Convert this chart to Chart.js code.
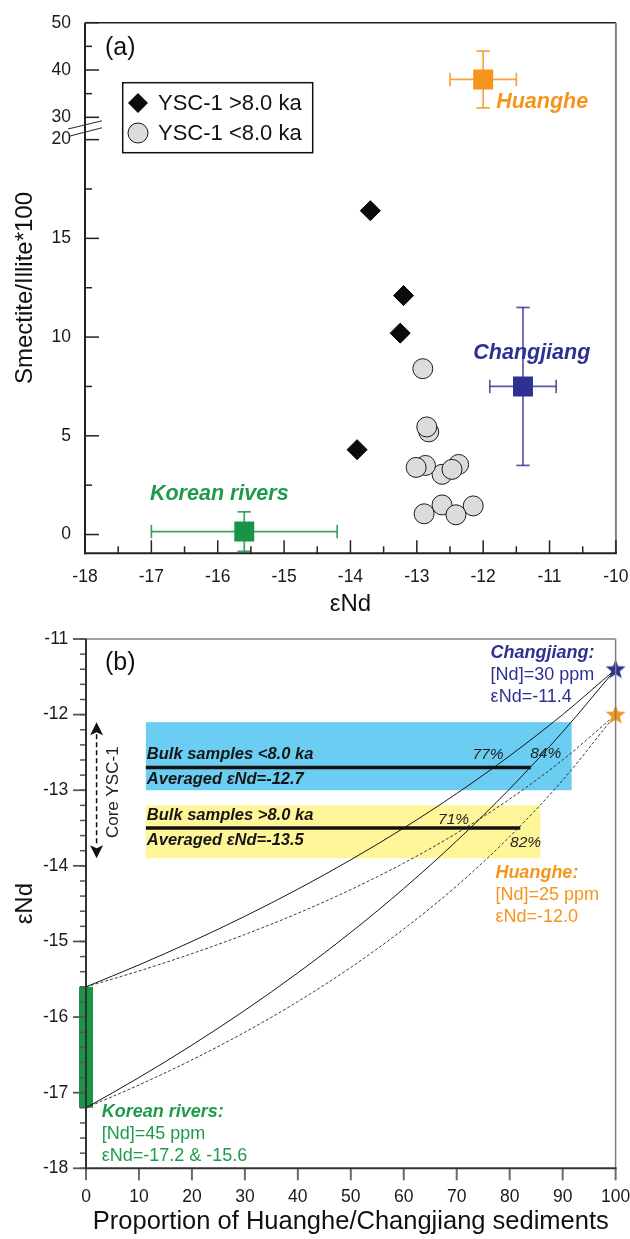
<!DOCTYPE html>
<html>
<head>
<meta charset="utf-8">
<script src="https://cdn.jsdelivr.net/npm/chart.js@4.4.0/dist/chart.umd.min.js"></script>
<style>
html,body{margin:0;padding:0;background:#fff;}
body{width:630px;height:1239px;position:relative;overflow:hidden;}
#c1{position:absolute;left:0;top:0;}
#c2{position:absolute;left:0;top:600px;}
</style>
</head>
<body>
<canvas id="c1" width="630" height="640"></canvas>
<canvas id="c2" width="630" height="639"></canvas>
<script>
// ================= DATA =================
// ---- Panel (a): clay mineral ratio vs eNd ----
const OLD_LABEL = 'YSC-1 >8.0 ka';
const OLD_X = [-13.70, -13.20, -13.25, -13.90];
const OLD_Y = [16.4, 12.1, 10.2, 4.3];

const YOUNG_LABEL = 'YSC-1 <8.0 ka';
const YOUNG_X = [-12.91, -12.82, -12.85, -12.37, -12.62, -12.47, -12.87, -13.01, -12.62, -12.15, -12.41, -12.89];
const YOUNG_Y = [8.4, 5.2, 5.45, 3.55, 3.05, 3.3, 3.5, 3.4, 1.5, 1.45, 1.0, 1.05];

const SRC_NAMES = ['Huanghe', 'Changjiang', 'Korean rivers'];
const SRC_X = [-12.0, -11.4, -15.6];
const SRC_Y = [38, 7.5, 0.15];
const SRC_X_LOW = [-12.5, -11.9, -17.0];
const SRC_X_HIGH = [-11.5, -10.9, -14.2];
const SRC_Y_LOW = [32, 3.5, -0.85];
const SRC_Y_HIGH = [44, 11.5, 1.15];

const A_X_TICKS = [-18, -17, -16, -15, -14, -13, -12, -11, -10];
const A_X_MINOR = [-17.5, -16.5, -15.5, -14.5, -13.5, -12.5, -11.5, -10.5];
const A_Y_TICKS = [0, 5, 10, 15, 20, 30, 40, 50];
const A_Y_MINOR = [2.5, 7.5, 12.5, 17.5, 35, 45];
const BREAK_FROM = 20, BREAK_TO = 30;

// ---- Panel (b): binary mixing ----
const MIX_F = [0, 10, 20, 30, 40, 50, 60, 70, 80, 90, 100];
const MIX_CJ_KA = [-15.6, -15.31, -15.0, -14.667, -14.308, -13.92, -13.5, -13.043, -12.545, -12.0, -11.4];
const MIX_CJ_KB = [-17.2, -16.8, -16.371, -15.911, -15.415, -14.88, -14.3, -13.67, -12.982, -12.229, -11.4];
const MIX_HH_KA = [-15.6, -15.391, -15.161, -14.908, -14.627, -14.314, -13.964, -13.568, -13.117, -12.6, -12.0];
const MIX_HH_KB = [-17.2, -16.898, -16.566, -16.2, -15.795, -15.343, -14.836, -14.265, -13.614, -12.867, -12.0];

const END_NAMES = ['Changjiang', 'Huanghe'];
const END_ND = [30, 25];
const END_END = [-11.4, -12.0];
const KOR_NAME = 'Korean rivers';
const KOR_ND = 45;
const KOR_END = [-17.2, -15.6];

const BULK_LABELS = ['Bulk samples <8.0 ka', 'Bulk samples >8.0 ka'];
const BULK_AVG = [-12.7, -13.5];
const BULK_TOP = [-12.1, -13.2];
const BULK_BOTTOM = [-13.0, -13.9];
const BULK_START = 11.3;
const BULK_BOX_END = [91.7, 85.8];
const BULK_LINE_END = [84, 82];

const PCT_LABELS = ['77%', '84%', '71%', '82%'];
const PCT_X = [75.9, 86.8, 69.4, 83.0];
const PCT_Y = [-12.53, -12.52, -13.39, -13.69];

const B_X_TICKS = [0, 10, 20, 30, 40, 50, 60, 70, 80, 90, 100];
const B_Y_TICKS = [-18, -17, -16, -15, -14, -13, -12, -11];
const CORE_LABEL = 'Core YSC-1';
const CORE_RANGE = [-12.1, -13.9];

// ================= STYLE =================
const FONT = "'Liberation Sans', Arial, Helvetica, sans-serif";
const ORANGE = '#F7941D', NAVY = '#2E3192', GREEN = '#179447';
const SRC_COLORS = [ORANGE, NAVY, GREEN];
const SRC_BAR_COLORS = ['rgba(247,148,29,0.85)', 'rgba(46,49,146,0.8)', 'rgba(23,148,71,0.85)'];
const SRC_TEXT_COLORS = ['#F7941D', '#2E3192', '#1E9A4B'];
const BOX_COLORS = ['#6ACDF1', '#FFF599'];

// broken axis mapping (display units)
const GAP_UNITS = 1.13, UPPER_SCALE = 0.2396;
function toDisp(v) {
  if (v <= BREAK_FROM) return v;
  if (v >= BREAK_TO) return BREAK_FROM + GAP_UNITS + (v - BREAK_TO) * UPPER_SCALE;
  return BREAK_FROM + (v - BREAK_FROM) / (BREAK_TO - BREAK_FROM) * GAP_UNITS;
}
function fromDisp(d) {
  if (d <= BREAK_FROM) return d;
  if (d >= BREAK_FROM + GAP_UNITS) return BREAK_TO + (d - BREAK_FROM - GAP_UNITS) / UPPER_SCALE;
  return BREAK_FROM + (d - BREAK_FROM) / GAP_UNITS * (BREAK_TO - BREAK_FROM);
}
class BrokenLinearScale extends Chart.LinearScale {
  getPixelForValue(value) {
    if (value === null || value === undefined || isNaN(value)) return NaN;
    return this.getPixelForDecimal((toDisp(value) - this._startValue) / this._valueRange);
  }
  getValueForPixel(pixel) {
    return fromDisp(this._startValue + this.getDecimalForPixel(pixel) * this._valueRange);
  }
}
BrokenLinearScale.id = 'brokenLinear';
BrokenLinearScale.defaults = {};
Chart.register(BrokenLinearScale);

function line(ctx, x1, y1, x2, y2, color, w, dash) {
  ctx.beginPath();
  ctx.setLineDash(dash || []);
  ctx.strokeStyle = color; ctx.lineWidth = w;
  ctx.moveTo(x1, y1); ctx.lineTo(x2, y2); ctx.stroke();
  ctx.setLineDash([]);
}

// ================= PANEL (a) =================
const panelA = {
  id: 'panelA',
  beforeDatasetsDraw(chart) {
    const {ctx, scales: {x, y}} = chart;
    ctx.save();
    SRC_NAMES.forEach((n, i) => {
      const px = x.getPixelForValue(SRC_X[i]), py = y.getPixelForValue(SRC_Y[i]);
      const xl = x.getPixelForValue(SRC_X_LOW[i]), xh = x.getPixelForValue(SRC_X_HIGH[i]);
      const yl = y.getPixelForValue(SRC_Y_LOW[i]), yh = y.getPixelForValue(SRC_Y_HIGH[i]);
      const c = SRC_BAR_COLORS[i], w = 1.7, cap = 6.7;
      line(ctx, xl, py, xh, py, c, w);
      line(ctx, xl, py - cap, xl, py + cap, c, w);
      line(ctx, xh, py - cap, xh, py + cap, c, w);
      line(ctx, px, yl, px, yh, c, w);
      line(ctx, px - cap, yl, px + cap, yl, c, w);
      line(ctx, px - cap, yh, px + cap, yh, c, w);
    });
    ctx.restore();
  },
  afterDraw(chart) {
    const {ctx, chartArea: ca, scales: {x, y}} = chart;
    ctx.save();
    // frame
    line(ctx, ca.left, ca.top, ca.right, ca.top, '#222', 1.5);
    line(ctx, ca.right, ca.top, ca.right, ca.bottom, '#808080', 2);
    line(ctx, ca.left - 1, ca.bottom, ca.right + 1, ca.bottom, '#222', 2);
    line(ctx, ca.left, ca.top, ca.left, ca.bottom + 1, '#222', 2);
    // inner ticks
    A_X_TICKS.forEach(v => { const p = x.getPixelForValue(v); line(ctx, p, ca.bottom, p, ca.bottom - 13, '#222', 1.5); });
    A_X_MINOR.forEach(v => { const p = x.getPixelForValue(v); line(ctx, p, ca.bottom, p, ca.bottom - 7, '#222', 1.5); });
    A_Y_TICKS.forEach(v => { const p = y.getPixelForValue(v); line(ctx, ca.left, p, ca.left + 14, p, '#222', 1.5); });
    A_Y_MINOR.forEach(v => { const p = y.getPixelForValue(v); line(ctx, ca.left, p, ca.left + 7, p, '#222', 1.5); });
    // axis break marks
    const p20 = y.getPixelForValue(BREAK_FROM), p30 = y.getPixelForValue(BREAK_TO), mid = (p20 + p30) / 2;
    line(ctx, ca.left - 17, mid + 0.5, ca.left + 17, mid - 7.7, '#333', 1.2);
    line(ctx, ca.left - 15, mid + 7.5, ca.left + 17, mid - 0.7, '#333', 1.2);
    // panel label
    ctx.fillStyle = '#111'; ctx.font = `25px ${FONT}`; ctx.textAlign = 'left'; ctx.textBaseline = 'middle';
    ctx.fillText('(a)', ca.left + 20, ca.top + 25.5);
    // source labels
    const offs = [[13, 22.7, 'left'], [8.8, -33, 'center'], [-25, -37.7, 'center']];
    ctx.font = `italic bold 21.5px ${FONT}`;
    SRC_NAMES.forEach((n, i) => {
      const px = x.getPixelForValue(SRC_X[i]), py = y.getPixelForValue(SRC_Y[i]);
      ctx.fillStyle = SRC_TEXT_COLORS[i]; ctx.textAlign = offs[i][2];
      ctx.fillText(n, px + offs[i][0], py + offs[i][1]);
    });
    // legend
    const lx = ca.left + 37.7, ly = ca.top + 60, lw = 190, lh = 70;
    ctx.fillStyle = '#fff'; ctx.fillRect(lx, ly, lw, lh);
    ctx.strokeStyle = '#111'; ctx.lineWidth = 1.5; ctx.strokeRect(lx, ly, lw, lh);
    const ds = chart.data.datasets;
    // diamond
    let cx = lx + 15.3, cy = ly + 20.3;
    ctx.beginPath(); ctx.moveTo(cx, cy - 10); ctx.lineTo(cx + 10, cy); ctx.lineTo(cx, cy + 10); ctx.lineTo(cx - 10, cy); ctx.closePath();
    ctx.fillStyle = ds[0].backgroundColor; ctx.fill();
    // circle
    cy = ly + 50.3;
    ctx.beginPath(); ctx.arc(cx, cy, 10, 0, Math.PI * 2);
    ctx.fillStyle = ds[1].backgroundColor; ctx.fill(); ctx.strokeStyle = '#1a1a1a'; ctx.lineWidth = 1; ctx.stroke();
    ctx.fillStyle = '#111'; ctx.font = `22px ${FONT}`; ctx.textAlign = 'left'; ctx.textBaseline = 'middle';
    ctx.fillText(ds[0].label, lx + 35.3, ly + 21);
    ctx.fillText(ds[1].label, lx + 35.3, ly + 51);
    ctx.restore();
  }
};

new Chart(document.getElementById('c1'), {
  type: 'scatter',
  data: {
    datasets: [
      { label: OLD_LABEL, data: OLD_X.map((v, i) => ({x: v, y: OLD_Y[i]})), pointStyle: 'rectRot', pointRadius: 10,
        backgroundColor: '#0b0b0b', borderColor: '#000', borderWidth: 1 },
      { label: YOUNG_LABEL, data: YOUNG_X.map((v, i) => ({x: v, y: YOUNG_Y[i]})), pointStyle: 'circle', pointRadius: 10,
        backgroundColor: '#dcdcdc', borderColor: '#1a1a1a', borderWidth: 1 },
      ...SRC_NAMES.map((n, i) => ({ label: n, data: [{x: SRC_X[i], y: SRC_Y[i]}], pointStyle: 'rect', pointRadius: 14.1,
        backgroundColor: SRC_COLORS[i], borderColor: SRC_COLORS[i], borderWidth: 0 }))
    ]
  },
  options: {
    responsive: false, animation: false, devicePixelRatio: 1,
    layout: { padding: { left: 0, top: 22.7, right: 14, bottom: 20.7 } },
    plugins: { legend: { display: false }, tooltip: { enabled: false } },
    scales: {
      x: {
        type: 'linear', position: 'bottom', min: -18, max: -10,
        grid: { display: false, drawTicks: false }, border: { display: false },
        ticks: { stepSize: 1, padding: 13.2, autoSkip: false, maxRotation: 0, color: '#1a1a1a',
                 font: { family: FONT, size: 17.5 }, callback: v => String(v) },
        title: { display: true, text: 'εNd', color: '#111', font: { family: FONT, size: 24 }, padding: { top: 0, bottom: 0.9 } },
        afterFit: s => { s.height = 66; s.paddingLeft = 0; s.paddingRight = 0; }
      },
      y: {
        type: 'brokenLinear', position: 'left', min: -0.95, max: toDisp(50), bounds: 'data',
        grid: { display: false, drawTicks: false }, border: { display: false },
        afterBuildTicks: s => { s.ticks = A_Y_TICKS.map(v => ({ value: v })); },
        ticks: { padding: 14, autoSkip: false, color: '#1a1a1a', font: { family: FONT, size: 17.5 }, callback: v => String(v) },
        title: { display: true, text: 'Smectite/Illite*100', color: '#111', font: { family: FONT, size: 24 }, padding: { top: 10.6, bottom: 0 } },
        afterFit: s => { s.width = 85; s.paddingTop = 0; s.paddingBottom = 0; }
      }
    }
  },
  plugins: [panelA]
});

// ================= PANEL (b) =================
function starImage(color, R) {
  const c = document.createElement('canvas');
  const s = Math.ceil(2 * R + 4); c.width = s; c.height = s;
  const g = c.getContext('2d');
  const cx = s / 2, cy = s / 2 + R * 0.05, r = R * 0.42;
  g.beginPath();
  for (let k = 0; k < 10; k++) {
    const rad = k % 2 ? r : R, a = -Math.PI / 2 + k * Math.PI / 5;
    g.lineTo(cx + rad * Math.cos(a), cy + rad * Math.sin(a));
  }
  g.closePath(); g.fillStyle = color; g.fill();
  return c;
}
const STARS = [starImage(NAVY, 10.5), starImage(ORANGE, 10.5)];

const panelB = {
  id: 'panelB',
  beforeDatasetsDraw(chart) {
    const {ctx, scales: {x, y}} = chart;
    ctx.save();
    BULK_AVG.forEach((v, i) => {
      const x0 = x.getPixelForValue(BULK_START), x1 = x.getPixelForValue(BULK_BOX_END[i]);
      const y0 = y.getPixelForValue(BULK_TOP[i]), y1 = y.getPixelForValue(BULK_BOTTOM[i]);
      ctx.fillStyle = BOX_COLORS[i]; ctx.fillRect(x0, y0, x1 - x0, y1 - y0);
    });
    // Korean rivers end-member range bar
    const kx = x.getPixelForValue(0);
    const ky0 = y.getPixelForValue(KOR_END[1]), ky1 = y.getPixelForValue(KOR_END[0]);
    ctx.fillStyle = '#1B9446'; ctx.fillRect(kx - 7, ky0, 14, ky1 - ky0);
    ctx.restore();
  },
  afterDraw(chart) {
    const {ctx, chartArea: ca, scales: {x, y}} = chart;
    ctx.save();
    // frame
    line(ctx, ca.left, ca.top, ca.right, ca.top, '#808080', 1.5);
    line(ctx, ca.right, ca.top, ca.right, ca.bottom, '#808080', 1.5);
    // ticks (outside)
    for (let k = 0; k <= 35; k++) {
      const v = -18 + k * 0.2; const p = y.getPixelForValue(v);
      line(ctx, ca.left - 6, p, ca.left, p, '#555', 1.5);
    }
    B_Y_TICKS.forEach(v => { const p = y.getPixelForValue(v); line(ctx, ca.left - 13, p, ca.left, p, '#555', 1.8); });
    B_X_TICKS.forEach(v => { const p = x.getPixelForValue(v); line(ctx, p, ca.bottom, p, ca.bottom + 12, '#6a6a6a', 2); });
    line(ctx, ca.left - 1, ca.bottom, ca.right + 1, ca.bottom, '#333', 2);
    line(ctx, ca.left, ca.top, ca.left, ca.bottom + 1, '#333', 2);
    // panel label
    ctx.fillStyle = '#111'; ctx.font = `25px ${FONT}`; ctx.textAlign = 'left'; ctx.textBaseline = 'middle';
    ctx.fillText('(b)', ca.left + 19, ca.top + 24.5);
    // bulk sample texts
    ctx.font = `italic bold 16.5px ${FONT}`; ctx.fillStyle = '#151515';
    BULK_AVG.forEach((v, i) => {
      const px = x.getPixelForValue(BULK_START) + 1, py = y.getPixelForValue(v);
      ctx.fillText(BULK_LABELS[i], px, py - 13);
      ctx.fillText(`Averaged εNd=${v.toFixed(1)}`, px, py + 12);
    });
    // percentage labels
    ctx.font = `italic 15.5px ${FONT}`; ctx.fillStyle = '#222'; ctx.textAlign = 'center';
    PCT_LABELS.forEach((t, i) => ctx.fillText(t, x.getPixelForValue(PCT_X[i]), y.getPixelForValue(PCT_Y[i])));
    // end-member text blocks
    ctx.textAlign = 'left';
    const blocks = [
      { lines: [`${END_NAMES[0]}:`, `[Nd]=${END_ND[0]} ppm`, `εNd=${END_END[0].toFixed(1)}`], color: NAVY, ax: 76.4, ay: -11.19 },
      { lines: [`${END_NAMES[1]}:`, `[Nd]=${END_ND[1]} ppm`, `εNd=${END_END[1].toFixed(1)}`], color: ORANGE, ax: 77.3, ay: -14.09 },
      { lines: [`${KOR_NAME}:`, `[Nd]=${KOR_ND} ppm`, `εNd=${KOR_END[0]} & ${KOR_END[1]}`], color: '#1E9A4B', ax: 2.97, ay: -17.25 }
    ];
    blocks.forEach(b => {
      const px = x.getPixelForValue(b.ax), py = y.getPixelForValue(b.ay);
      ctx.fillStyle = b.color;
      b.lines.forEach((t, j) => {
        ctx.font = j === 0 ? `italic bold 18px ${FONT}` : `18px ${FONT}`;
        ctx.fillText(t, px, py + j * 22);
      });
    });
    // Core YSC-1 arrow
    const ax = x.getPixelForValue(2.0);
    const t0 = y.getPixelForValue(CORE_RANGE[0]), t1 = y.getPixelForValue(CORE_RANGE[1]);
    line(ctx, ax, t0 + 12, ax, t1 - 12, '#111', 1.5, [5, 3]);
    ctx.fillStyle = '#111';
    ctx.beginPath(); ctx.moveTo(ax, t0); ctx.lineTo(ax + 6.5, t0 + 13); ctx.lineTo(ax, t0 + 10); ctx.lineTo(ax - 6.5, t0 + 13); ctx.closePath(); ctx.fill();
    ctx.beginPath(); ctx.moveTo(ax, t1); ctx.lineTo(ax + 6.5, t1 - 13); ctx.lineTo(ax, t1 - 10); ctx.lineTo(ax - 6.5, t1 - 13); ctx.closePath(); ctx.fill();
    ctx.save();
    ctx.translate(ax + 16.3, (t0 + t1) / 2 + 2);
    ctx.rotate(-Math.PI / 2);
    ctx.font = `17px ${FONT}`; ctx.fillStyle = '#222'; ctx.textAlign = 'center'; ctx.textBaseline = 'middle';
    ctx.fillText(CORE_LABEL, 0, 0);
    ctx.restore();
    ctx.restore();
  }
};

const curve = (ys, dashed) => ({
  data: MIX_F.map((f, i) => ({ x: f, y: ys[i] })), showLine: true, pointRadius: 0,
  borderColor: dashed ? '#3a3a3a' : '#151515', borderWidth: 1, borderDash: dashed ? [3, 2] : [],
  cubicInterpolationMode: 'monotone', clip: false
});

new Chart(document.getElementById('c2'), {
  type: 'scatter',
  data: {
    datasets: [
      { label: END_NAMES[0], data: [{ x: 100, y: END_END[0] }], pointStyle: STARS[0], pointRadius: 10, clip: false },
      { label: END_NAMES[1], data: [{ x: 100, y: END_END[1] }], pointStyle: STARS[1], pointRadius: 10, clip: false },
      ...BULK_AVG.map((v, i) => ({ label: BULK_LABELS[i], data: [{ x: BULK_START, y: v }, { x: BULK_LINE_END[i], y: v }],
        showLine: true, pointRadius: 0, borderColor: '#111', borderWidth: 3.5 })),
      curve(MIX_CJ_KA, false), curve(MIX_CJ_KB, false), curve(MIX_HH_KA, true), curve(MIX_HH_KB, true)
    ]
  },
  options: {
    responsive: false, animation: false, devicePixelRatio: 1,
    layout: { padding: { left: 0, top: 39, right: 14.4, bottom: 1.7 } },
    plugins: { legend: { display: false }, tooltip: { enabled: false } },
    scales: {
      x: {
        type: 'linear', position: 'bottom', min: 0, max: 100,
        grid: { display: false, drawTicks: false }, border: { display: false },
        ticks: { stepSize: 10, padding: 18.2, autoSkip: false, maxRotation: 0, color: '#1a1a1a',
                 font: { family: FONT, size: 17.5 }, callback: v => String(v) },
        title: { display: true, text: 'Proportion of Huanghe/Changjiang sediments', color: '#111',
                 font: { family: FONT, size: 25.5 }, padding: { top: 0, bottom: 0 } },
        afterFit: s => { s.height = 69; s.paddingLeft = 0; s.paddingRight = 0; }
      },
      y: {
        type: 'linear', position: 'left', min: -18, max: -11,
        grid: { display: false, drawTicks: false }, border: { display: false },
        ticks: { stepSize: 1, padding: 17.7, autoSkip: false, color: '#1a1a1a', font: { family: FONT, size: 17.5 }, callback: v => String(v) },
        title: { display: true, text: 'εNd', color: '#111', font: { family: FONT, size: 24 }, padding: { top: 10.6, bottom: 0 } },
        afterFit: s => { s.width = 86; s.paddingTop = 0; s.paddingBottom = 0; }
      }
    }
  },
  plugins: [panelB]
});
</script>
</body>
</html>
